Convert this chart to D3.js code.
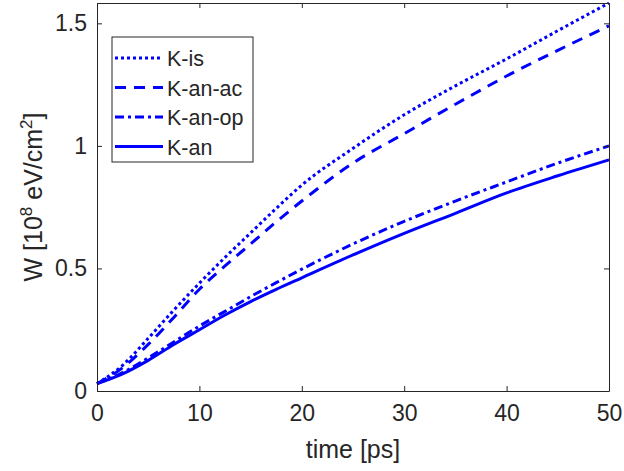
<!DOCTYPE html>
<html>
<head>
<meta charset="utf-8">
<script src="https://cdn.jsdelivr.net/npm/d3@7"></script>
<style>
  body { margin: 0; background: #fff; }
  svg { display: block; }
  text { font-family: "Liberation Sans", Arial, Helvetica, sans-serif; fill: #262626; }
</style>
</head>
<body>
<div id="chart"></div>
<script>
// ---- data ----
const time = [0, 2.5, 5, 7.5, 10, 12.5, 15, 17.5, 20, 25, 30, 35, 40, 45, 50];
const kIs   = [0.03, 0.105, 0.215, 0.33, 0.44, 0.545, 0.645, 0.745, 0.84, 0.99, 1.127, 1.245, 1.355, 1.47, 1.583];
const kAnAc = [0.03, 0.095, 0.19, 0.30, 0.415, 0.51, 0.60, 0.69, 0.775, 0.93, 1.05, 1.17, 1.285, 1.39, 1.49];
const kAnOp = [0.03, 0.075, 0.135, 0.20, 0.265, 0.325, 0.385, 0.442, 0.497, 0.60, 0.692, 0.775, 0.853, 0.93, 1.0];
const kAn   = [0.03, 0.07, 0.125, 0.19, 0.25, 0.31, 0.365, 0.415, 0.462, 0.555, 0.643, 0.725, 0.808, 0.878, 0.943];
const seriesNames = ["K-is", "K-an-ac", "K-an-op", "K-an"];
const seriesData = [kIs, kAnAc, kAnOp, kAn];
const dashes = ["3,3", "11,8", "9,4,3,4", null];
const xTicks = [0, 10, 20, 30, 40, 50];
const yTicks = [0, 0.5, 1, 1.5];
const yTickLabels = ["0", "0.5", "1", "1.5"];

// ---- layout ----
const W = 624, H = 471;
const m = { left: 97, right: 15, top: 3, bottom: 80 };
const svg = d3.select("#chart").append("svg").attr("width", W).attr("height", H);

const x = d3.scaleLinear().domain([0, 50]).range([m.left, W - m.right]);
const y = d3.scaleLinear().domain([0, 1.583]).range([H - m.bottom, m.top]);

const axisColor = "#262626";
const tickLen = 5;

// plot area background
svg.append("rect").attr("x", x(0)).attr("y", y(1.583)).attr("width", x(50) - x(0)).attr("height", y(0) - y(1.583)).attr("fill", "#fff");

// lines
const line = d3.line().x((d, i) => x(time[i])).y(d => y(d)).curve(d3.curveMonotoneX);
seriesData.forEach((s, k) => {
  svg.append("path").datum(s).attr("d", line)
    .attr("fill", "none").attr("stroke", "#0000ff").attr("stroke-width", 3)
    .attr("stroke-dasharray", dashes[k]);
});

// axes
const fmtY = d => yTickLabels[yTicks.indexOf(d)];
const bottomAxis = d3.axisBottom(x).tickValues(xTicks).tickSizeInner(-tickLen).tickSizeOuter(0).tickPadding(14);
const leftAxis = d3.axisLeft(y).tickValues(yTicks).tickFormat(fmtY).tickSizeInner(-tickLen).tickSizeOuter(0).tickPadding(10);
const topAxis = d3.axisTop(x).tickValues(xTicks).tickSizeInner(-tickLen).tickSizeOuter(0).tickFormat("");
const rightAxis = d3.axisRight(y).tickValues(yTicks).tickSizeInner(-tickLen).tickSizeOuter(0).tickFormat("");

function style(g, fs) {
  g.select(".domain").attr("stroke", axisColor).attr("stroke-width", 1);
  g.selectAll(".tick line").attr("stroke", axisColor).attr("stroke-width", 1);
  g.selectAll(".tick text").attr("font-size", fs).attr("fill", axisColor)
    .attr("font-family", "Liberation Sans, Arial, sans-serif");
}
svg.append("g").attr("transform", `translate(0,${y(0)})`).call(bottomAxis).call(g => style(g, 23));
svg.append("g").attr("transform", `translate(${x(0)},0)`).call(leftAxis).call(g => style(g, 23));
svg.append("g").attr("transform", `translate(0,${y(1.583)})`).call(topAxis).call(g => style(g, 23));
svg.append("g").attr("transform", `translate(${x(50)},0)`).call(rightAxis).call(g => style(g, 23));

// axis labels
svg.append("text").attr("x", (x(0) + x(50)) / 2).attr("y", 458)
  .attr("text-anchor", "middle").attr("font-size", 25).text("time [ps]");

const yl = svg.append("text")
  .attr("transform", `translate(42,${(y(0) + y(1.583)) / 2}) rotate(-90)`)
  .attr("text-anchor", "middle").attr("font-size", 25);
yl.append("tspan").text("W [10");
yl.append("tspan").attr("dy", -10).attr("font-size", 17).text("8");
yl.append("tspan").attr("dy", 10).text(" eV/cm");
yl.append("tspan").attr("dy", -10).attr("font-size", 17).text("2");
yl.append("tspan").attr("dy", 10).text("]");

// legend
const lg = svg.append("g");
const lgX = 112, lgY = 37, lgW = 141, lgH = 125;
lg.append("rect").attr("x", lgX).attr("y", lgY).attr("width", lgW).attr("height", lgH)
  .attr("fill", "#fff").attr("stroke", axisColor).attr("stroke-width", 1);
seriesNames.forEach((name, k) => {
  const cy = 58 + k * 29.5;
  lg.append("line").attr("x1", 115).attr("x2", 163).attr("y1", cy).attr("y2", cy)
    .attr("stroke", "#0000ff").attr("stroke-width", 3).attr("stroke-dasharray", dashes[k]);
  lg.append("text").attr("x", 167).attr("y", cy + 8).attr("font-size", 21.5).attr("fill", "#000").text(name);
});
</script>
</body>
</html>
